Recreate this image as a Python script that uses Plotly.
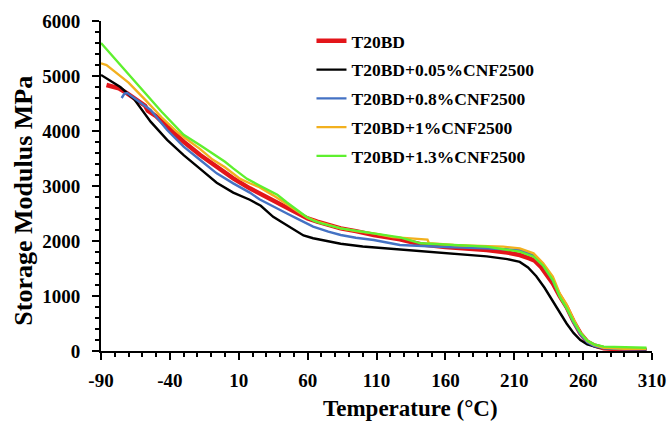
import plotly.graph_objects as go

# ---- data ----
names = ["T20BD", "T20BD+0.05%CNF2500", "T20BD+0.8%CNF2500",
         "T20BD+1%CNF2500", "T20BD+1.3%CNF2500"]

T_red = [-86, -81, -77, -71, -64, -60, -58, -56, -50, -42, -30, -18, -6, 6, 18, 25, 35, 45, 52, 60, 67, 75,
         84, 95, 108, 127, 142, 160, 175, 190, 205, 214, 221, 225, 229, 234, 238, 243, 248, 253, 258, 263,
         268, 275, 290, 306]
V_red = [4836, 4800, 4776, 4685, 4564, 4480, 4460, 4370, 4270, 4079, 3806, 3564, 3352, 3139, 2958, 2867,
         2745, 2600, 2503, 2410, 2352, 2290, 2230, 2180, 2109, 2030, 1940, 1890, 1870, 1836, 1790, 1745,
         1685, 1640, 1540, 1380, 1230, 1000, 800, 540, 320, 170, 100, 50, 25, 20]

T_black = [-90, -84, -76, -66, -54, -42, -30, -18, -6, 6, 18, 26, 35, 42, 50, 57, 64, 75, 84, 100, 110,
           128, 145, 170, 190, 205, 214, 220, 226, 232, 238, 243, 248, 253, 258, 263, 270, 280, 295, 306]
V_black = [5020, 4930, 4800, 4580, 4170, 3840, 3560, 3310, 3060, 2880, 2750, 2640, 2440, 2330, 2200,
           2100, 2050, 1990, 1950, 1900, 1880, 1840, 1810, 1760, 1720, 1670, 1620, 1520, 1360, 1150, 900,
           690, 500, 330, 200, 120, 70, 45, 35, 30]

T_blue = [-75, -73, -71, -66, -54, -42, -30, -18, -6, 6, 18, 25, 35, 45, 52, 64, 75, 84, 95, 108, 127,
          142, 160, 190, 205, 214, 224, 231, 238, 243, 248, 253, 258, 263, 268, 275, 290, 306]
V_blue = [4600, 4680, 4690, 4600, 4382, 4018, 3715, 3473, 3230, 3048, 2880, 2760, 2624, 2500, 2412,
          2261, 2170, 2109, 2060, 2018, 1927, 1909, 1890, 1867, 1850, 1836, 1745, 1560, 1280, 1000, 780,
          520, 300, 160, 90, 50, 30, 30]

T_orange = [-90, -86, -80, -70, -58, -46, -36, -30, -18, -9, 0, 6, 11, 18, 25, 35, 45, 52, 60, 67, 75, 84,
            95, 108, 122, 135, 147, 148, 155, 166, 180, 202, 214, 224, 231, 238, 243, 248, 253, 258, 263,
            268, 275, 290, 306]
V_orange = [5230, 5200, 5079, 4880, 4570, 4250, 4010, 3890, 3670, 3480, 3340, 3230, 3130, 3050, 2980,
            2830, 2660, 2540, 2420, 2352, 2290, 2230, 2180, 2139, 2070, 2040, 2025, 1960, 1945, 1927,
            1915, 1897, 1867, 1776, 1594, 1351, 1048, 850, 580, 340, 180, 110, 60, 40, 40]

T_green = [-90, -81, -70, -58, -46, -36, -30, -18, -9, 0, 6, 11, 16, 25, 32, 38, 45, 52, 59, 65, 70, 84,
           108, 127, 142, 160, 190, 214, 224, 231, 238, 243, 248, 253, 258, 263, 268, 275, 290, 306]
V_green = [5600, 5340, 5032, 4690, 4350, 4080, 3930, 3740, 3590, 3440, 3320, 3220, 3130, 3010, 2920,
           2840, 2700, 2570, 2442, 2360, 2321, 2230, 2139, 2067, 1958, 1930, 1897, 1806, 1715, 1550, 1290,
           988, 780, 540, 330, 190, 120, 80, 65, 60]

x_ticks = [-90, -40, 10, 60, 110, 160, 210, 260, 310]
y_ticks = [0, 1000, 2000, 3000, 4000, 5000, 6000]

series = [
    (names[0], T_red, V_red, "#E3151A", 4.5),
    (names[1], T_black, V_black, "#000000", 2.4),
    (names[2], T_blue, V_blue, "#4472C4", 2.4),
    (names[3], T_orange, V_orange, "#F2B01E", 2.4),
    (names[4], T_green, V_green, "#5EF02E", 2.4),
]

FONT = "Liberation Serif, Times New Roman, serif"

fig = go.Figure()
for i, (name, xs, ys, col, w) in enumerate(series):
    fig.add_trace(go.Scatter(x=xs, y=ys, mode="lines", name=name, legendgroup=f"g{i}",
                             line=dict(color=col, width=w)))

axis_common = dict(
    showgrid=False, zeroline=False, showline=True, linecolor="black", linewidth=2,
    ticks="outside", tickcolor="black", tickwidth=2, ticklen=7, automargin=False,
    tickfont=dict(family=FONT, size=19, color="black", weight="bold"),
    mirror=False, ticklabeloverflow="allow",
)

fig.update_layout(
    width=670, height=422,
    margin=dict(l=101, r=18, t=21, b=71),
    paper_bgcolor="white", plot_bgcolor="white",
    font=dict(family=FONT, color="black"),
    showlegend=True,
    legend=dict(x=0.382, y=0.994, xanchor="left", yanchor="top",
                bgcolor="rgba(0,0,0,0)", borderwidth=0, traceorder="grouped",
                font=dict(family=FONT, size=17.5, color="black", weight="bold"),
                tracegroupgap=3),
    xaxis=dict(range=[-90, 310], tickvals=x_ticks, ticktext=[str(v) for v in x_ticks],
               minor=dict(dtick=10, tick0=-90, ticks="outside", ticklen=4, tickwidth=2, tickcolor="black"),
               ticklabelstandoff=4,
               **axis_common),
    yaxis=dict(range=[0, 6000], tickvals=y_ticks, ticktext=[str(v) for v in y_ticks],
               minor=dict(dtick=200, tick0=0, ticks="outside", ticklen=4, tickwidth=2, tickcolor="black"),
               ticklabelstandoff=8,
               **axis_common),
    annotations=[
        dict(text="Temperature (°C)", xref="paper", yref="paper", x=0.561, y=-0.173,
             xanchor="center", yanchor="middle", showarrow=False,
             font=dict(family=FONT, size=23, color="black", weight="bold")),
        dict(text="Storage Modulus MPa", xref="paper", yref="paper", x=-0.14, y=0.455,
             xanchor="center", yanchor="middle", showarrow=False, textangle=-90,
             font=dict(family=FONT, size=26, color="black", weight="bold")),
    ],
)

# remove the default page margin so the 670x422 figure fills the window exactly
fig.write_html("out.html",
               config={"displayModeBar": False},
               post_script="document.documentElement.style.margin='0';"
                           "document.body.style.margin='0';"
                           "document.body.style.overflow='hidden';")
